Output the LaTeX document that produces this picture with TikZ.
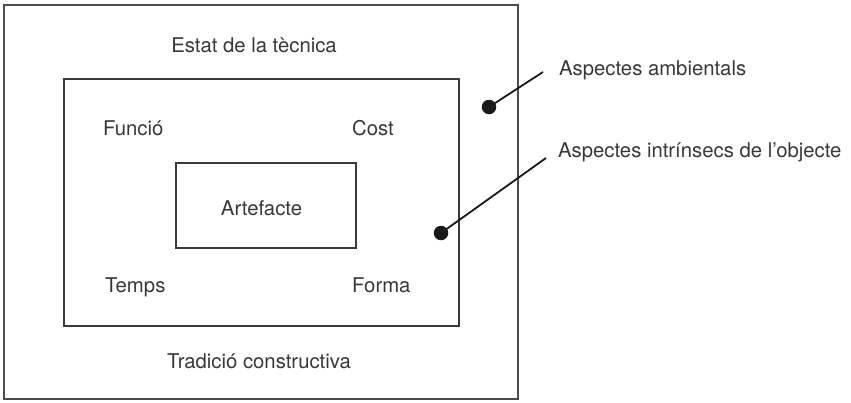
\documentclass[tikz,border=0pt]{standalone}
\usepackage{fontspec}
\setmainfont{TeX Gyre Heros}
\definecolor{txt}{HTML}{383838}
\definecolor{frame}{HTML}{3A3A3A}
\begin{document}
\begin{tikzpicture}[x=1pt,y=-1pt,
  box/.style={draw=frame, line width=1.4pt, inner sep=0pt, rectangle},
  lbl/.style={inner sep=0pt, text=txt, font=\fontsize{20.3}{23}\selectfont},
  dot/.style={circle, fill=black!90, inner sep=0pt, minimum size=14.5pt},
  lead/.style={draw=black!90, line width=1.8pt}]
\useasboundingbox (0,0) rectangle (851,402);
\node[box, line width=1.6pt, draw=black!70, minimum width=514pt, minimum height=394pt] (outer) at (261,202) {};
\node[box, minimum width=395pt, minimum height=247pt] (middle) at (261.5,202.5) {};
\node[box, minimum width=180pt, minimum height=85pt] (inner) at (266,205.5) {};
\node[lbl, anchor=base] (estat) at (254,52) {Estat de la tècnica};
\node[lbl, anchor=base west] (funcio) at (103,135) {Funció};
\node[lbl, anchor=base west] (cost) at (352,135) {Cost};
\node[lbl, anchor=base] (artef) at (261.5,215) {Artefacte};
\node[lbl, anchor=base west] (temps) at (105,292) {Temps};
\node[lbl, anchor=base west] (forma) at (352,292) {Forma};
\node[lbl, anchor=base] (trad) at (259,368) {Tradició constructiva};
\node[lbl, anchor=base west] (amb) at (559,75) {Aspectes ambientals};
\node[lbl, anchor=base west] (intr) at (558,157) {Aspectes intrínsecs de l’objecte};
\node[dot] (d1) at (489,107) {};
\node[dot] (d2) at (441,233) {};
\coordinate (e1) at (543,72);
\coordinate (e2) at (546,158);
\draw[lead] (d1.center) -- (e1);
\draw[lead] (d2.center) -- (e2);
\end{tikzpicture}
\end{document}
